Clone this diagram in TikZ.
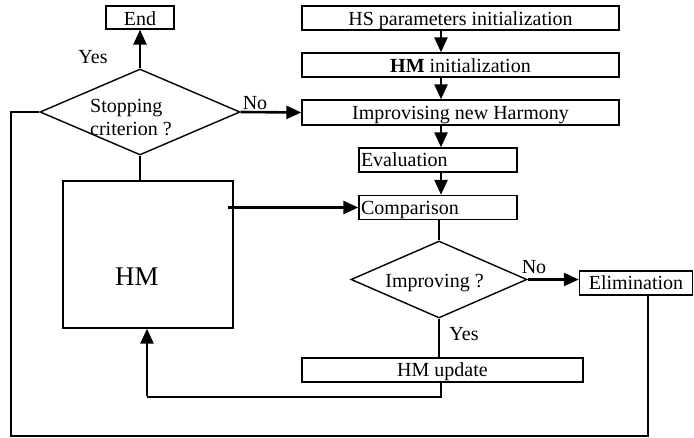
\documentclass[tikz,border=0pt]{standalone}
\usepackage{fontspec}
\setmainfont{Liberation Serif}
\usetikzlibrary{shapes.geometric,arrows.meta,calc}
\begin{document}
\begin{tikzpicture}[x=1pt,y=-1pt,
  every node/.style={font=\fontsize{20}{23}\selectfont},
  box/.style={draw,line width=1.4pt,inner sep=0pt,align=center,text height=19pt,text depth=5pt},
  lbox/.style={draw,line width=1.4pt,inner ysep=0pt,inner xsep=2pt,align=left,text height=19pt,text depth=5pt},
  dec/.style={draw,diamond,line width=1.4pt,inner sep=0pt},
  arr/.style={line width=2.6pt,-{Triangle[length=15pt,width=13pt]}},
  loop/.style={line width=1.4pt}]
\useasboundingbox (0,0) rectangle (694,438);
% nodes
\node[box,minimum width=68,text height=20pt,text depth=3pt] (End) at (140,17.5) {End};
\node[box,minimum width=317,text height=20pt,text depth=4pt] (HS) at (460.5,18) {HS parameters initialization};
\node[box,minimum width=317,text height=20pt,text depth=4pt] (HMi) at (460.5,65) {\textbf{HM} initialization};
\node[box,minimum width=317,text height=20pt,text depth=5pt] (Imp) at (460.5,112.5) {Improvising new Harmony};
\node[lbox,text width=154] (Eval) at (438,160) {Evaluation};
\node[lbox,text width=154] (Comp) at (438,207.5) {Comparison};
\node[box,minimum width=113] (Elim) at (636,283) {Elimination};
\node[box,minimum width=281] (HMu) at (442.5,370) {HM update};
\node[draw,line width=1.4pt,minimum width=170,minimum height=147] (HM) at (148,254.5) {};
\node[font=\fontsize{27}{30}\selectfont] (HMT) at (137,277) {HM};
\node[dec,minimum width=200,minimum height=86] (Stop) at (140,112) {};
\node[align=left] (StopT) at (131,118) {Stopping\\criterion ?};
\node[dec,minimum width=176,minimum height=77] (Impv) at (439,279.5) {};
\node (ImpvT) at (434.5,283) {Improving ?};
% labels
\node (yes1) at (93,57) {Yes};
\node (no1) at (255,103) {No};
\node (no2) at (534,267) {No};
\node (yes2) at (464,334) {Yes};
% column coordinate
\coordinate (col) at (441,0);
% connectors
\draw[arr] (Stop.north) -- (End.south);
\draw[arr] (Stop.east) -- (Imp.west);
\draw[arr] (HS.south -| col) -- (HMi.north -| col);
\draw[arr] (HMi.south -| col) -- (Imp.north -| col);
\draw[arr] (Imp.south -| col) -- (Eval.north -| col);
\draw[arr] (Eval.south -| col) -- (Comp.north -| col);
\draw[loop] (Stop.south) -- (Stop.south |- HM.north);
\draw[arr] ([xshift=-6pt]Comp.west -| HM.east) -- (Comp.west);
\draw[loop] (Comp.south -| Impv.north) -- (Impv.north);
\draw[arr] (Impv.east) -- (Impv.east -| Elim.west);
\draw[loop] (Impv.south) -- (Impv.south |- HMu.north);
\coordinate (c1) at (441,397);
\coordinate (c2) at (147,397);
\draw[loop] (HMu.south -| c1) -- (c1) -- (c2);
\draw[arr] ([yshift=0.7pt]c2) -- (c2 |- HM.south);
\coordinate (e1) at (648,436);
\coordinate (e2) at (11,436);
\draw[loop] (Elim.south -| e1) -- (e1) -- (e2) -- (e2 |- Stop.west) -- (Stop.west);
\end{tikzpicture}
\end{document}
